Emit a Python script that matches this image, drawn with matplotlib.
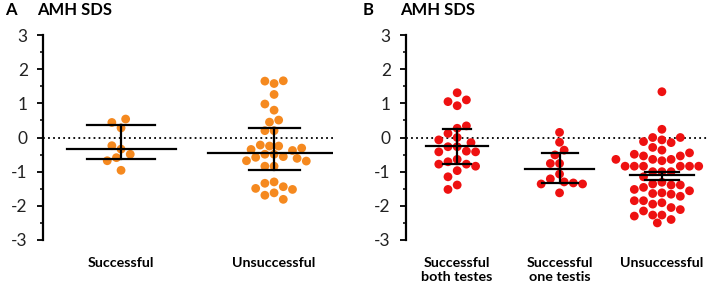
import matplotlib
matplotlib.use("Agg")
import matplotlib.pyplot as plt
import numpy as np

plt.rcParams['font.family'] = ['Lato', 'DejaVu Sans']
plt.rcParams['axes.unicode_minus'] = False

# ---- data ----
cats_a = ['Successful', 'Unsuccessful']
a_successful = [0.54, 0.44, 0.28, -0.24, -0.34, -0.49, -0.59, -0.68, -0.96]
a_unsuccessful = [1.66, 1.65, 1.58, 1.26, 0.98, 0.80, 0.51, 0.45, 0.20, 0.20,
                  -0.22, -0.25, -0.25, -0.31, -0.35, -0.38, -0.49, -0.49, -0.56,
                  -0.58, -0.61, -0.68, -0.69, -0.84, -0.84, -1.30, -1.34, -1.44,
                  -1.49, -1.52, -1.62, -1.69, -1.81]
a_mean = [-0.34, -0.44]
a_upper = [0.38, 0.27]
a_lower = [-0.63, -0.95]

cats_b = ['Successful\nboth testes', 'Successful\none testis', 'Unsuccessful']
b_both = [1.31, 1.10, 1.05, 0.93, 0.34, 0.27, 0.12, 0.0, -0.07, -0.15, -0.27,
          -0.27, -0.40, -0.42, -0.42, -0.64, -0.71, -0.78, -0.78, -0.84, -0.97,
          -1.15, -1.39, -1.52]
b_one = [0.15, -0.14, -0.37, -0.51, -0.76, -0.76, -1.07, -1.21, -1.30, -1.33,
         -1.36, -1.36, -1.62]
b_unsuccessful = [1.34, 0.24, 0.0, 0.0, -0.07, -0.12, -0.15, -0.29, -0.37, -0.45,
                  -0.49, -0.54, -0.54, -0.64, -0.64, -0.64, -0.68, -0.84, -0.84,
                  -0.84, -0.84, -0.84, -0.84, -1.0, -1.0, -1.0, -1.15, -1.31,
                  -1.36, -1.39, -1.39, -1.46, -1.52, -1.56, -1.62, -1.64, -1.66,
                  -1.72, -1.85, -1.85, -1.91, -1.95, -2.05, -2.11, -2.15, -2.27,
                  -2.27, -2.30, -2.40, -2.50]
b_mean = [-0.25, -0.91, -1.11]
b_upper = [0.25, -0.45, -1.00]
b_lower = [-0.79, -1.33, -1.23]

# widths of mean line / caps (data units)
a_mean_half = [0.356, 0.435]
a_cap_half = [0.222, 0.167]
b_mean_half = [0.30, 0.34, 0.31]
b_cap_half = [0.134, 0.176, 0.163]

ORANGE = '#f5891f'
RED = '#ee1111'

fig = plt.figure(figsize=(7.09, 2.9), dpi=100)
ax_a = fig.add_axes([43 / 709, 50 / 290, 290 / 709, 205 / 290])
ax_b = fig.add_axes([406 / 709, 50 / 290, 303 / 709, 205 / 290])


def swarm_offsets(values, px_x, px_y, d=9.2):
    # simple greedy beeswarm in pixel space, returns x offsets in data units
    placed = []
    offs = []
    steps = [0]
    for k in range(1, 20):
        steps += [-k * 0.5, k * 0.5]
    for v in values:
        for s in steps:
            ox = s * d
            ok = True
            for (px, py) in placed:
                if (ox - px) ** 2 + ((v - py) * px_y) ** 2 < (d * 0.97) ** 2:
                    ok = False
                    break
            if ok:
                break
        placed.append((ox, v))
        offs.append(ox / px_x)
    return np.array(offs)


def panel(ax, groups, means, uppers, lowers, mhalf, chalf, cats, color, xlim):
    ax.set_xlim(*xlim)
    ax.set_ylim(-3, 3)
    px_x = ax.bbox.width / (xlim[1] - xlim[0])
    px_y = ax.bbox.height / 6
    ax.axhline(0, color='black', lw=1.3, ls=(0, (1, 1.8)), zorder=1)
    for i, vals in enumerate(groups):
        vals = np.array(sorted(vals, key=lambda v: abs(v - np.median(vals))))
        offs = swarm_offsets(vals, px_x, px_y)
        ax.scatter(i + offs, vals, s=40, color=color, edgecolors='none', zorder=2)
        ax.plot([i - mhalf[i], i + mhalf[i]], [means[i]] * 2, color='black', lw=1.6, zorder=3)
        ax.plot([i - chalf[i], i + chalf[i]], [uppers[i]] * 2, color='black', lw=1.6, zorder=3)
        ax.plot([i - chalf[i], i + chalf[i]], [lowers[i]] * 2, color='black', lw=1.6, zorder=3)
        ax.plot([i, i], [lowers[i], uppers[i]], color='black', lw=1.6, zorder=3)
    for s in ['top', 'right', 'bottom']:
        ax.spines[s].set_visible(False)
    ax.spines['left'].set_linewidth(1.6)
    ax.set_yticks(range(-3, 4))
    ax.set_yticks(np.arange(-2.5, 3, 1), minor=True)
    ax.tick_params(axis='y', which='major', length=4, width=1.3, labelsize=12.5,
                   labelcolor='#222222', pad=7)
    ax.tick_params(axis='y', which='minor', length=2.5, width=1.1)
    ax.set_xticks(range(len(cats)))
    ax.set_xticklabels(cats, fontweight='bold', fontsize=10.3, linespacing=1.25)
    ax.tick_params(axis='x', length=0, pad=12)


fig.text(5 / 709, 1 - 2 / 290, 'A', fontsize=12, fontweight='bold', va='top')
fig.text(37 / 709, 1 - 2 / 290, 'AMH SDS', fontsize=12, fontweight='bold', va='top')
fig.text(363 / 709, 1 - 2 / 290, 'B', fontsize=12, fontweight='bold', va='top')
fig.text(400 / 709, 1 - 2 / 290, 'AMH SDS', fontsize=12, fontweight='bold', va='top')

panel(ax_a, [a_successful, a_unsuccessful], a_mean, a_upper, a_lower,
      a_mean_half, a_cap_half, cats_a, ORANGE, (-0.51, 1.385))
panel(ax_b, [b_both, b_one, b_unsuccessful], b_mean, b_upper, b_lower,
      b_mean_half, b_cap_half, cats_b, RED, (-0.5, 2.46))

fig.savefig('out.png', dpi=100)
